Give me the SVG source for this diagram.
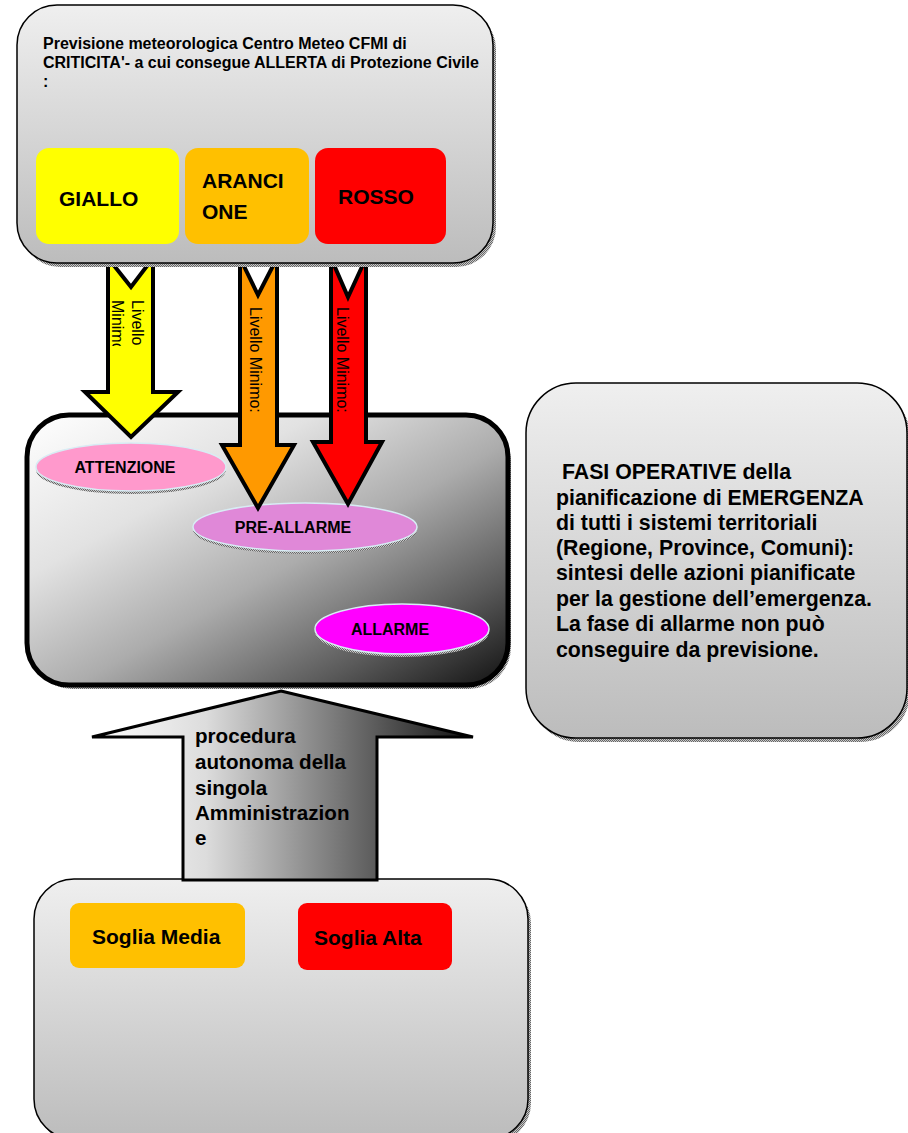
<svg xmlns="http://www.w3.org/2000/svg" width="908" height="1133" viewBox="0 0 908 1133">
<defs>
<linearGradient id="gv" x1="0" y1="0" x2="0" y2="1"><stop offset="0" stop-color="#efefef"/><stop offset="1" stop-color="#bcbcbc"/></linearGradient>
<linearGradient id="gd" x1="0" y1="0" x2="1" y2="1"><stop offset="0" stop-color="#ffffff"/><stop offset="0.3" stop-color="#e2e2e2"/><stop offset="0.55" stop-color="#acacac"/><stop offset="0.8" stop-color="#5a5a5a"/><stop offset="1" stop-color="#111111"/></linearGradient>
<linearGradient id="gh" gradientUnits="userSpaceOnUse" x1="92" y1="0" x2="473" y2="0"><stop offset="0" stop-color="#ffffff"/><stop offset="0.3" stop-color="#dcdcdc"/><stop offset="1" stop-color="#111111"/></linearGradient>
<pattern id="hatch" width="2" height="2" patternUnits="userSpaceOnUse"><rect width="2" height="2" fill="#c8c8c8"/><rect width="1" height="1" fill="#666"/><rect x="1" y="1" width="1" height="1" fill="#666"/></pattern>
<clipPath id="clipY"><rect x="95" y="290" width="60" height="56"/></clipPath>
</defs>
<style>
text{font-family:"Liberation Sans",Arial,sans-serif;fill:#000}
.b{font-weight:bold}
.arrow{stroke:#000;stroke-width:4;stroke-linejoin:miter}
.ell{stroke:#d8ecf4;stroke-width:1.5}
.box{stroke:#000;stroke-width:1.5}
</style>
<rect width="908" height="1133" fill="#fff"/>

<g id="middle-box">
<rect x="30" y="419" width="481" height="270" rx="42" fill="url(#hatch)"/>
<rect x="27" y="415" width="481" height="270" rx="42" fill="url(#gd)" stroke="#000" stroke-width="5"/>
</g>

<g id="attenzione">
<ellipse cx="131" cy="470" rx="95" ry="24" fill="url(#hatch)"/>
<ellipse cx="131" cy="467" rx="95" ry="24" fill="#ff99cc" class="ell"/>
<text x="125" y="473" class="b" font-size="16" text-anchor="middle">ATTENZIONE</text>
</g>
<g id="pre-allarme">
<ellipse cx="305" cy="530" rx="112" ry="24" fill="url(#hatch)"/>
<ellipse cx="305" cy="527" rx="112" ry="24" fill="#e088d8" class="ell"/>
<text x="293" y="533" class="b" font-size="16" text-anchor="middle">PRE-ALLARME</text>
</g>
<g id="allarme">
<ellipse cx="402" cy="632" rx="87" ry="25" fill="url(#hatch)"/>
<ellipse cx="402" cy="629" rx="87" ry="25" fill="#ff00ff" class="ell"/>
<text x="390" y="635" class="b" font-size="16" text-anchor="middle">ALLARME</text>
</g>

<g id="connectors">
<g id="arrow-giallo">
<polygon class="arrow" fill="#ffff00" points="108,258 131,287 153,258 153,392 178,392 131,437 85,392 108,392"/>
<g clip-path="url(#clipY)">
<text transform="translate(132,300) rotate(90)" font-size="16">Livello</text>
<text transform="translate(112,300) rotate(90)" font-size="16">Minimo:</text>
</g>
</g>
<g id="arrow-arancione">
<polygon class="arrow" fill="#ff9900" points="240,258 258,295 277,258 277,445 294,445 258,508 222,445 240,445"/>
<text transform="translate(250,307) rotate(90)" font-size="16">Livello Minimo:</text>
</g>
<g id="arrow-rosso">
<polygon class="arrow" fill="#ff0000" points="331,258 348,297 366,258 366,442 382,442 348,504 313,442 331,442"/>
<text transform="translate(337,307) rotate(90)" font-size="16">Livello Minimo:</text>
</g>
</g>

<g id="top-box">
<rect x="20" y="9" width="476" height="258" rx="40" fill="url(#hatch)"/>
<rect x="17" y="5" width="476" height="258" rx="40" fill="url(#gv)" class="box"/>
<text class="b" font-size="16"><tspan x="43" y="49">Previsione meteorologica Centro Meteo CFMI di</tspan><tspan x="43" y="68">CRITICITA'- a cui consegue ALLERTA di Protezione Civile</tspan><tspan x="43" y="87">:</tspan></text>
</g>
<g id="giallo">
<rect x="36" y="148" width="143" height="96" rx="13" fill="#ffff00"/>
<text x="59" y="206" class="b" font-size="21">GIALLO</text>
</g>
<g id="arancione">
<rect x="185" y="148" width="124" height="96" rx="13" fill="#ffc000"/>
<text class="b" font-size="21"><tspan x="202" y="188">ARANCI</tspan><tspan x="202" y="219">ONE</tspan></text>
</g>
<g id="rosso">
<rect x="315" y="148" width="131" height="96" rx="13" fill="#ff0000"/>
<text x="338" y="204" class="b" font-size="21">ROSSO</text>
</g>

<g id="fasi-box">
<rect x="529" y="387" width="381" height="355" rx="50" fill="url(#hatch)"/>
<rect x="526" y="383" width="381" height="355" rx="50" fill="url(#gv)" class="box"/>
<text class="b" font-size="21.3" xml:space="preserve"><tspan x="556" y="479"> FASI OPERATIVE della</tspan><tspan x="556" y="505">pianificazione di EMERGENZA</tspan><tspan x="556" y="530">di tutti i sistemi territoriali</tspan><tspan x="556" y="555">(Regione, Province, Comuni):</tspan><tspan x="556" y="580">sintesi delle azioni pianificate</tspan><tspan x="556" y="606">per la gestione dell’emergenza.</tspan><tspan x="556" y="631">La fase di allarme non può</tspan><tspan x="556" y="657">conseguire da previsione.</tspan></text>
</g>

<g id="bottom-box">
<rect x="37" y="883" width="494" height="260" rx="40" fill="url(#hatch)"/>
<rect x="34" y="879" width="494" height="260" rx="40" fill="url(#gv)" class="box"/>
</g>
<g id="soglia-media">
<rect x="70" y="903" width="175" height="65" rx="9" fill="#ffc000"/>
<text x="92" y="944" class="b" font-size="21">Soglia Media</text>
</g>
<g id="soglia-alta">
<rect x="298" y="903" width="154" height="67" rx="9" fill="#ff0000"/>
<text x="314" y="945" class="b" font-size="21">Soglia Alta</text>
</g>

<g id="procedura-arrow">
<polygon points="281,691 473,737 377,737 377,880 183,880 183,737 92,737" fill="url(#gh)" stroke="#000" stroke-width="3" stroke-linejoin="miter"/>
<text class="b" font-size="20.6"><tspan x="195" y="743">procedura</tspan><tspan x="195" y="769">autonoma della</tspan><tspan x="195" y="795">singola</tspan><tspan x="195" y="820">Amministrazion</tspan><tspan x="195" y="845">e</tspan></text>
</g>
</svg>
